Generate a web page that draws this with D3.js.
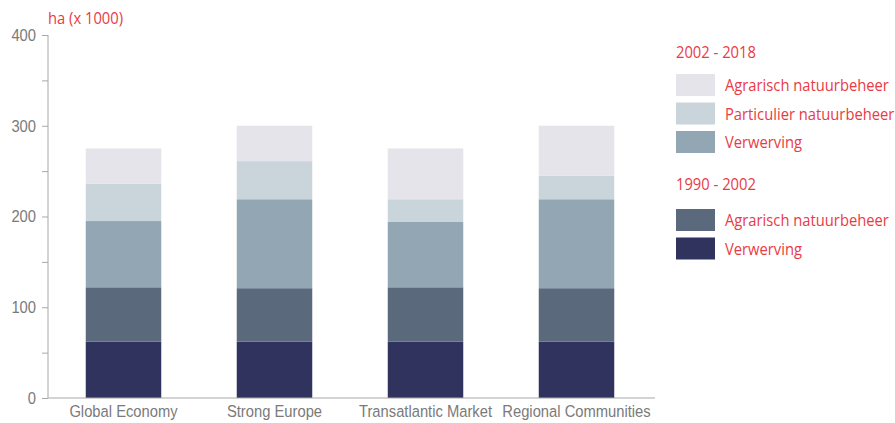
<!DOCTYPE html>
<html><head><meta charset="utf-8">
<script src="https://cdn.jsdelivr.net/npm/d3@7"></script>
<style>body{margin:0;background:#fff}svg{display:block;font-family:"Open Sans",sans-serif}</style>
</head><body><svg id="c" width="895" height="423"></svg>
<script>
const categories = ["Global Economy","Strong Europe","Transatlantic Market","Regional Communities"];
const seriesKeys = ["v1990","a1990","v2002","p2002","a2002"];
const v1990 = [62, 62, 62, 62];
const a1990 = [60, 59, 60, 59];
const v2002 = [73, 98, 72, 98];
const p2002 = [41, 42, 25, 26];
const a2002 = [39, 39, 56, 55];
const seriesLabels = ["Verwerving","Agrarisch natuurbeheer","Verwerving","Particulier natuurbeheer","Agrarisch natuurbeheer"];
const colors = ["#2f335e","#5a6a7c","#93a6b4","#c9d4db","#e4e4ea"];
const yTicks = [0,50,100,150,200,250,300,350,400];
const yLabelTicks = [0,100,200,300,400];
const legendGroups = [{title:"2002 - 2018", keys:[4,3,2]},{title:"1990 - 2002", keys:[1,0]}];

const vals = {v1990,a1990,v2002,p2002,a2002};
const rows = categories.map((c,i)=>{const r={cat:c}; seriesKeys.forEach(k=>r[k]=vals[k][i]); return r;});
const stack = d3.stack().keys(seriesKeys)(rows);

const svg = d3.select("#c");
const red = "#ea3a44", gray = "#7a7a7a", axisCol = "#a8a8a8";
const FS = 16.5;

// measure condensing ratio so text widths match the reference's condensed face
const probe = svg.append("text").attr("font-size",FS).text("Agrarisch natuurbeheer");
const sx = Math.min(1, 164 / probe.node().getComputedTextLength());
probe.remove();

const x = d3.scaleBand().domain(categories).range([48,652]).paddingInner(0.5).paddingOuter(0.25);
const y = d3.scaleLinear().domain([0,400]).range([398,35]);

// bars
svg.append("g").selectAll("g").data(stack).join("g").attr("fill",(d,i)=>colors[i])
  .selectAll("rect").data(d=>d).join("rect")
  .attr("x",d=>x(d.data.cat)).attr("width",x.bandwidth())
  .attr("y",d=>y(d[1])).attr("height",d=>y(d[0])-y(d[1]));

// y axis
const ya = svg.append("g").attr("transform","translate(48,0)")
  .call(d3.axisLeft(y).tickValues(yTicks).tickSize(6).tickFormat(d=>yLabelTicks.includes(d)?d:""));
ya.select(".domain").attr("stroke",axisCol).attr("d","M0,35V398");
ya.selectAll(".tick line").attr("stroke",axisCol);
ya.selectAll(".tick text").attr("fill",gray).attr("font-size",FS).attr("x",0)
  .attr("transform",`translate(-12,0) scale(${sx},1)`);

// x axis
const xa = svg.append("g").attr("transform","translate(0,398)")
  .call(d3.axisBottom(x).tickSize(0));
xa.select(".domain").attr("stroke",axisCol).attr("d","M48,0H655");
xa.selectAll(".tick text").attr("fill",gray).attr("font-size",FS).attr("y",0).attr("dy",null)
  .attr("transform",`translate(0,19) scale(${sx},1)`);

function txt(g, xx, yy, s){
  return g.append("text").attr("transform",`translate(${xx},${yy}) scale(${sx},1)`)
    .attr("fill",red).attr("font-size",FS).text(s);
}
// y label
txt(svg, 48, 24, "ha (x 1000)");

// legend
const lg = svg.append("g");
const groupTop = [58, 190];
const swTop = [74, 209];
legendGroups.forEach((g,gi)=>{
  txt(lg, 676, groupTop[gi], g.title);
  g.keys.forEach((k,j)=>{
    const sy = swTop[gi] + j*28.5;
    lg.append("rect").attr("x",676).attr("y",sy).attr("width",39).attr("height",22).attr("fill",colors[k]);
    txt(lg, 725, sy+17, seriesLabels[k]);
  });
});
</script></body></html>
